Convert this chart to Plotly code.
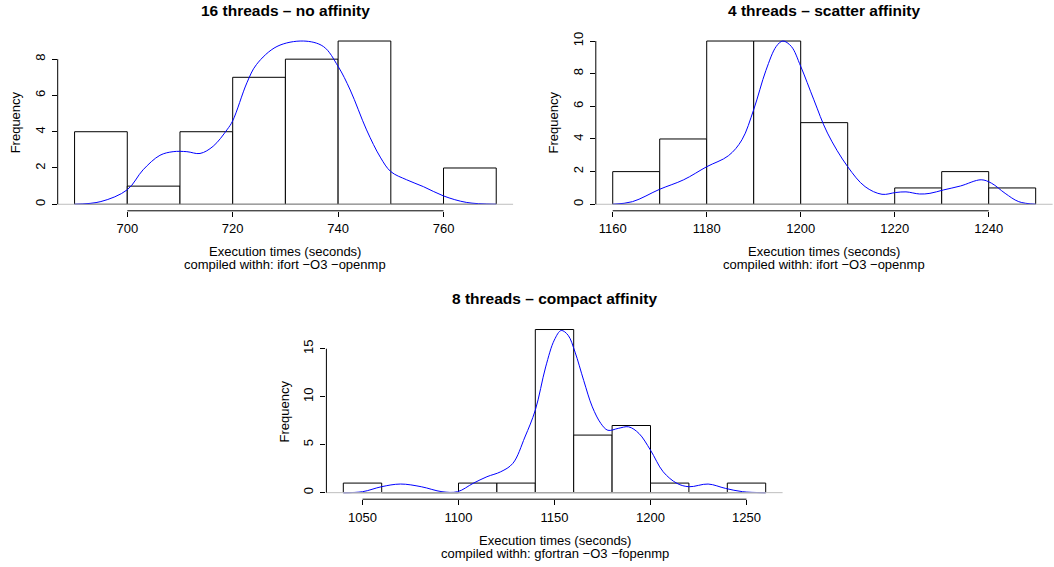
import plotly.graph_objects as go

W, H = 1054, 567

# ---------------- data ----------------
# Panel 1: 16 threads - no affinity
p1_breaks = [690, 700, 710, 720, 730, 740, 750, 760, 770]
p1_counts = [4, 1, 4, 7, 8, 9, 0, 2]
p1_dens_x = [690, 695, 700, 703, 706.2, 708.7, 711.3, 713.8, 716.3, 718.9, 720, 722.7, 724.5,
             728.4, 733.4, 737.2, 740, 742.3, 745.4, 748, 750, 753, 756.2, 760, 764.4, 770]
p1_dens_y = [0, 0.15, 0.8, 1.9, 2.7, 2.9, 2.9, 2.8, 3.2, 4.1, 4.6, 6.7, 7.7,
             8.7, 9.0, 8.7, 7.6, 6.3, 4.1, 2.6, 1.8, 1.35, 0.97, 0.46, 0.1, 0]

# Panel 2: 4 threads - scatter affinity
p2_breaks = [1160, 1170, 1180, 1190, 1200, 1210, 1220, 1230, 1240, 1250]
p2_counts = [2, 4, 10, 10, 5, 0, 1, 2, 1]
p2_dens_x = [1160, 1164.2, 1170, 1175.1, 1180, 1184.6, 1187.5, 1190, 1192.6, 1194.8, 1196.2,
             1198, 1200, 1202.8, 1205.7, 1210, 1213.7, 1217.3, 1220.2, 1222.4, 1225.3, 1227.5,
             1230.4, 1234, 1238.4, 1240.6, 1243.5, 1246.4, 1250]
p2_dens_y = [0, 0.16, 0.92, 1.5, 2.3, 2.97, 3.95, 5.8, 8.2, 9.67, 10.0,
             9.67, 8.45, 6.4, 4.36, 2.3, 1.08, 0.61, 0.72, 0.76, 0.63, 0.67,
             0.88, 1.12, 1.5, 1.29, 0.67, 0.16, 0]

# Panel 3: 8 threads - compact affinity
p3_breaks = [1040, 1060, 1080, 1100, 1120, 1140, 1160, 1180, 1200, 1220, 1240, 1260]
p3_counts = [1, 0, 0, 1, 1, 17, 6, 7, 1, 0, 1]
p3_dens_x = [1040, 1050, 1059.9, 1069.8, 1080.6, 1091.4, 1099.5, 1107.6, 1114.8, 1122, 1128.3,
             1134.6, 1140, 1145.4, 1149.9, 1153.5, 1157.1, 1160.7, 1165.2, 1169.7, 1174.2,
             1177.8, 1183.2, 1188.6, 1194, 1200, 1206.6, 1213.8, 1220.1, 1230, 1239, 1248, 1260]
p3_dens_y = [0, 0.1, 0.62, 0.9, 0.62, 0.1, 0.1, 0.97, 1.66, 2.18, 3.05,
             5.8, 8.6, 13.1, 15.9, 16.9, 16.4, 14.65, 11.7, 8.94, 7.2,
             6.5, 6.7, 6.86, 6.17, 4.43, 2.18, 0.97, 0.62, 0.9, 0.45, 0.1, 0]

titles = ["16 threads – no affinity", "4 threads – scatter affinity", "8 threads – compact affinity"]
xlab1 = "Execution times (seconds)"
xlab2 = ["compiled withh: ifort −O3 −openmp", "compiled withh: ifort −O3 −openmp",
         "compiled withh: gfortran −O3 −fopenmp"]
ylab = "Frequency"

p1_xticks = [700, 720, 740, 760]
p1_yticks = [0, 2, 4, 6, 8]
p2_xticks = [1160, 1180, 1200, 1220, 1240]
p2_yticks = [0, 2, 4, 6, 8, 10]
p3_xticks = [1050, 1100, 1150, 1200, 1250]
p3_yticks = [0, 5, 10, 15]

panels = [
    dict(breaks=p1_breaks, counts=p1_counts, dx=p1_dens_x, dy=p1_dens_y,
         xt=p1_xticks, yt=p1_yticks, px=(57.7, 513.1), py=(34.5, 210.8)),
    dict(breaks=p2_breaks, counts=p2_counts, dx=p2_dens_x, dy=p2_dens_y,
         xt=p2_xticks, yt=p2_yticks, px=(595.8, 1052.6), py=(34.5, 210.8)),
    dict(breaks=p3_breaks, counts=p3_counts, dx=p3_dens_x, dy=p3_dens_y,
         xt=p3_xticks, yt=p3_yticks, px=(326.4, 782.6), py=(323.0, 499.2)),
]

FONT = "Liberation Sans, Arial, Helvetica, sans-serif"

def fx(p):
    return p / W

def fy(p):
    return 1 - p / H

fig = go.Figure()
shapes = []
annotations = []
layout = {}

for i, pn in enumerate(panels):
    k = "" if i == 0 else str(i + 1)
    xa, ya = "x" + k, "y" + k
    br = pn["breaks"]
    centers = [(br[j] + br[j + 1]) / 2 for j in range(len(br) - 1)]
    widths = [br[j + 1] - br[j] for j in range(len(br) - 1)]
    fig.add_trace(go.Bar(
        x=centers, y=pn["counts"], width=widths, xaxis=xa, yaxis=ya,
        marker=dict(color="white", line=dict(color="black", width=1)),
        showlegend=False, hoverinfo="skip"))
    fig.add_trace(go.Scatter(
        x=pn["dx"], y=pn["dy"], mode="lines", xaxis=xa, yaxis=ya,
        line=dict(color="#0000FF", width=1, shape="spline", smoothing=1.0),
        showlegend=False, hoverinfo="skip"))

    xr = br[-1] - br[0]
    ymax = max(pn["counts"])
    xrange = [br[0] - 0.04 * xr, br[-1] + 0.04 * xr]
    yrange = [-0.04 * ymax, ymax * 1.04]

    layout["xaxis" + k] = dict(
        domain=[fx(pn["px"][0]), fx(pn["px"][1])], anchor=ya, range=xrange,
        tickvals=pn["xt"], ticktext=[str(v) for v in pn["xt"]],
        ticks="outside", ticklen=5, tickwidth=1, tickcolor="black",
        showline=False, showgrid=False, zeroline=False, automargin=False,
        tickfont=dict(family=FONT, size=13, color="black"), ticklabelstandoff=1)
    layout["yaxis" + k] = dict(
        domain=[fy(pn["py"][1]), fy(pn["py"][0])], anchor=xa, range=yrange,
        tickvals=pn["yt"], ticktext=[str(v) for v in pn["yt"]], tickangle=-90,
        ticks="outside", ticklen=5, tickwidth=1, tickcolor="black",
        showline=False, showgrid=False, zeroline=False, automargin=False,
        tickfont=dict(family=FONT, size=13, color="black"), ticklabelstandoff=2)

    # zero line (grey) across plot region
    shapes.append(dict(type="line", xref=xa + " domain", x0=0, x1=1, yref=ya, y0=0, y1=0,
                       line=dict(color="#BEBEBE", width=1), layer="above"))
    # R-style axis lines spanning first to last tick
    shapes.append(dict(type="line", xref=xa, x0=pn["xt"][0], x1=pn["xt"][-1],
                       yref=ya + " domain", y0=0, y1=0,
                       line=dict(color="black", width=1), layer="above"))
    shapes.append(dict(type="line", xref=xa + " domain", x0=0, x1=0,
                       yref=ya, y0=pn["yt"][0], y1=pn["yt"][-1],
                       line=dict(color="black", width=1), layer="above"))

    cx = (pn["px"][0] + pn["px"][1]) / 2
    cy = (pn["py"][0] + pn["py"][1]) / 2
    top, bot = pn["py"]
    annotations.append(dict(text="<b>" + titles[i] + "</b>", x=fx(cx), y=fy(top - 24.5),
                            xref="paper", yref="paper", showarrow=False,
                            xanchor="center", yanchor="middle",
                            font=dict(family=FONT, size=15.5, color="black")))
    annotations.append(dict(text=xlab1, x=fx(cx), y=fy(bot + 41.0),
                            xref="paper", yref="paper", showarrow=False,
                            xanchor="center", yanchor="middle",
                            font=dict(family=FONT, size=13, color="black")))
    annotations.append(dict(text=xlab2[i], x=fx(cx), y=fy(bot + 53.8),
                            xref="paper", yref="paper", showarrow=False,
                            xanchor="center", yanchor="middle",
                            font=dict(family=FONT, size=13, color="black")))
    annotations.append(dict(text=ylab, x=fx(pn["px"][0] - 42.0), y=fy(cy),
                            xref="paper", yref="paper", showarrow=False, textangle=-90,
                            xanchor="center", yanchor="middle",
                            font=dict(family=FONT, size=13, color="black")))

fig.update_layout(
    width=W, height=H, margin=dict(l=0, r=0, t=0, b=0, autoexpand=False),
    paper_bgcolor="white", plot_bgcolor="white",
    bargap=0, shapes=shapes, annotations=annotations,
    font=dict(family=FONT, size=13, color="black"),
    **layout)

fig.write_html("out.html", config={"displayModeBar": False, "staticPlot": True},
               post_script="document.body.style.margin='0px';document.body.style.overflow='hidden';")
